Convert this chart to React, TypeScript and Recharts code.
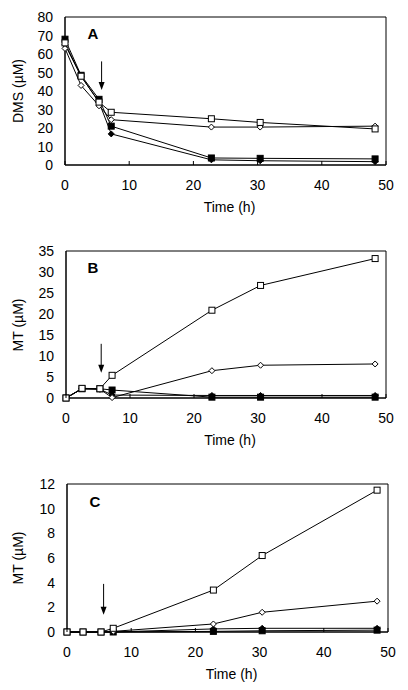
import React from 'react';
import { LineChart, Line, XAxis, YAxis, ReferenceLine } from 'recharts';

const times = [0, 2.5, 5.3, 7.2, 22.8, 30.4, 48.3];
const xTicks = [0, 10, 20, 30, 40, 50];

// Panel A: DMS (µM)
const aOpenSquare = [66, 48, 34, 28.5, 25, 23, 19.5];
const aOpenDiamond = [63, 43, 32, 24.5, 20.5, 20.5, 21];
const aFilledSquare = [68, 48.5, 35.5, 21, 3.8, 3.6, 3.3];
const aFilledDiamond = [65, 48, 34, 16.8, 2.8, 2.3, 1.8];
const aTicks = [0, 10, 20, 30, 40, 50, 60, 70, 80];

// Panel B: MT (µM)
const bOpenSquare = [0, 2.3, 2.2, 5.4, 20.9, 26.8, 33.2];
const bOpenDiamond = [0, 2.2, 2.1, 0.1, 6.5, 7.8, 8.1];
const bFilledSquare = [0, 2.2, 2.2, 1.9, 0.2, 0.2, 0.2];
const bFilledDiamond = [0, 2.2, 2.1, 0.7, 0.6, 0.6, 0.6];
const bTicks = [0, 5, 10, 15, 20, 25, 30, 35];

// Panel C: MT (µM)
const cOpenSquare = [0, 0, 0, 0.3, 3.4, 6.2, 11.5];
const cOpenDiamond = [0, 0, 0, 0.05, 0.65, 1.6, 2.5];
const cFilledSquare = [0, 0, 0, 0, 0.05, 0.1, 0.15];
const cFilledDiamond = [0, 0, 0, 0, 0.25, 0.3, 0.3];
const cTicks = [0, 2, 4, 6, 8, 10, 12];

const FONT = '"Liberation Sans", Arial, Helvetica, sans-serif';

const makeRows = (os: number[], od: number[], fs: number[], fd: number[]) =>
  times.map((t, i) => ({ t, os: os[i], od: od[i], fs: fs[i], fd: fd[i] }));

const squareDot = (filled: boolean) => (p: any) => {
  const { cx, cy, index } = p;
  if (cx == null || cy == null) return <g key={index} />;
  return (
    <rect key={index} x={cx - 3} y={cy - 3} width={6} height={6}
      fill={filled ? '#000' : '#fff'} stroke="#000" strokeWidth={1} />
  );
};
const diamondDot = (filled: boolean) => (p: any) => {
  const { cx, cy, index } = p;
  if (cx == null || cy == null) return <g key={index} />;
  const r = 3;
  return (
    <path key={index} d={`M${cx},${cy - r} L${cx + r},${cy} L${cx},${cy + r} L${cx - r},${cy} Z`}
      fill={filled ? '#000' : '#fff'} stroke="#000" strokeWidth={1} />
  );
};

const XTick = (p: any) => {
  const { x, y, payload } = p;
  return (
    <g>
      <line x1={x} x2={x} y1={y} y2={y - 4} stroke="#000" strokeWidth={1} />
      <text x={x} y={y + 20} textAnchor="middle" dominantBaseline="central"
        fontSize={14} fontFamily={FONT} fill="#000">{payload.value}</text>
    </g>
  );
};
const YTick = (p: any) => {
  const { x, y, payload } = p;
  return (
    <text x={x - 12} y={y} textAnchor="end" dominantBaseline="central"
      fontSize={14} fontFamily={FONT} fill="#000">{payload.value}</text>
  );
};

const arrowShape = (p: any) => {
  const { x1, y1, x2, y2 } = p;
  if (x1 == null) return <g />;
  const top = Math.min(y1, y2);
  const bot = Math.max(y1, y2);
  return (
    <g>
      <line x1={x1} x2={x1} y1={top} y2={bot - 6} stroke="#000" strokeWidth={1} />
      <path d={`M${x1 - 3},${bot - 8} L${x1 + 3},${bot - 8} L${x1},${bot} Z`} fill="#000" />
    </g>
  );
};

type PanelProps = {
  top: number;
  marginTop: number;
  marginRight: number;
  yWidth: number;
  xHeight: number;
  yMax: number;
  yTicks: number[];
  rows: any[];
  arrow: [number, number, number];
  letter: string;
  letterPos: [number, number];
  yLabel: string;
};

const Panel = ({ top, marginTop, marginRight, yWidth, xHeight, yMax, yTicks, rows, arrow, letter, letterPos, yLabel }: PanelProps) => {
  const plotLeft = yWidth;
  const plotRight = 408 - marginRight;
  const plotTop = marginTop;
  const plotBottom = 230 - xHeight;
  return (
    <div style={{ position: 'absolute', left: 0, top, width: 408, height: 230 }}>
      <LineChart width={408} height={230} data={rows}
        margin={{ top: marginTop, right: marginRight, left: 0, bottom: 0 }}>
        <XAxis dataKey="t" type="number" domain={[0, 50]} ticks={xTicks}
          height={xHeight} tickLine={false} tickSize={0} tickMargin={0}
          axisLine={{ stroke: '#000', strokeWidth: 1.5 }} tick={<XTick />} interval={0} />
        <YAxis type="number" domain={[0, yMax]} ticks={yTicks} width={yWidth}
          tickLine={false} tickSize={0} tickMargin={0}
          axisLine={{ stroke: '#000', strokeWidth: 1.5 }} tick={<YTick />} interval={0} />
        <ReferenceLine y={yMax} stroke="#000" strokeWidth={1} />
        <ReferenceLine x={50} stroke="#000" strokeWidth={1} />
        <ReferenceLine segment={[{ x: arrow[0], y: arrow[1] }, { x: arrow[0], y: arrow[2] }]}
          shape={arrowShape} />
        <Line dataKey="fd" stroke="#000" strokeWidth={1} dot={diamondDot(true)} isAnimationActive={false} />
        <Line dataKey="fs" stroke="#000" strokeWidth={1} dot={squareDot(true)} isAnimationActive={false} />
        <Line dataKey="od" stroke="#000" strokeWidth={1} dot={diamondDot(false)} isAnimationActive={false} />
        <Line dataKey="os" stroke="#000" strokeWidth={1} dot={squareDot(false)} isAnimationActive={false} />
      </LineChart>
      <div style={{ position: 'absolute', left: letterPos[0] - 20, top: letterPos[1] - 10, width: 40, height: 20,
        lineHeight: '20px', textAlign: 'center', fontFamily: FONT, fontWeight: 'bold', fontSize: 15 }}>{letter}</div>
      <div style={{ position: 'absolute', left: 18 - 60, top: (plotTop + plotBottom) / 2 - 10, width: 120, height: 20,
        lineHeight: '20px', textAlign: 'center', fontFamily: FONT, fontSize: 14, transform: 'rotate(-90deg)' }}>{yLabel}</div>
      <div style={{ position: 'absolute', left: (plotLeft + plotRight) / 2 + 4 - 60, top: plotBottom + 42 - 10, width: 120, height: 20,
        lineHeight: '20px', textAlign: 'center', fontFamily: FONT, fontSize: 14 }}>Time (h)</div>
    </div>
  );
};

export default function App() {
  return (
    <div style={{ position: 'absolute', left: 0, top: 0, width: 408, height: 690, background: '#fff' }}>
      <Panel top={0} marginTop={17} marginRight={22} yWidth={65} xHeight={65} yMax={80} yTicks={aTicks}
        rows={makeRows(aOpenSquare, aOpenDiamond, aFilledSquare, aFilledDiamond)}
        arrow={[5.7, 56, 40.5]} letter="A" letterPos={[93, 34]} yLabel="DMS (µM)" />
      <Panel top={230} marginTop={21} marginRight={22} yWidth={66} xHeight={62} yMax={35} yTicks={bTicks}
        rows={makeRows(bOpenSquare, bOpenDiamond, bFilledSquare, bFilledDiamond)}
        arrow={[5.5, 12.9, 6]} letter="B" letterPos={[93, 38]} yLabel="MT (µM)" />
      <Panel top={460} marginTop={24} marginRight={20} yWidth={67} xHeight={58} yMax={12} yTicks={cTicks}
        rows={makeRows(cOpenSquare, cOpenDiamond, cFilledSquare, cFilledDiamond)}
        arrow={[5.7, 3.9, 1.4]} letter="C" letterPos={[95, 42]} yLabel="MT (µM)" />
    </div>
  );
}
